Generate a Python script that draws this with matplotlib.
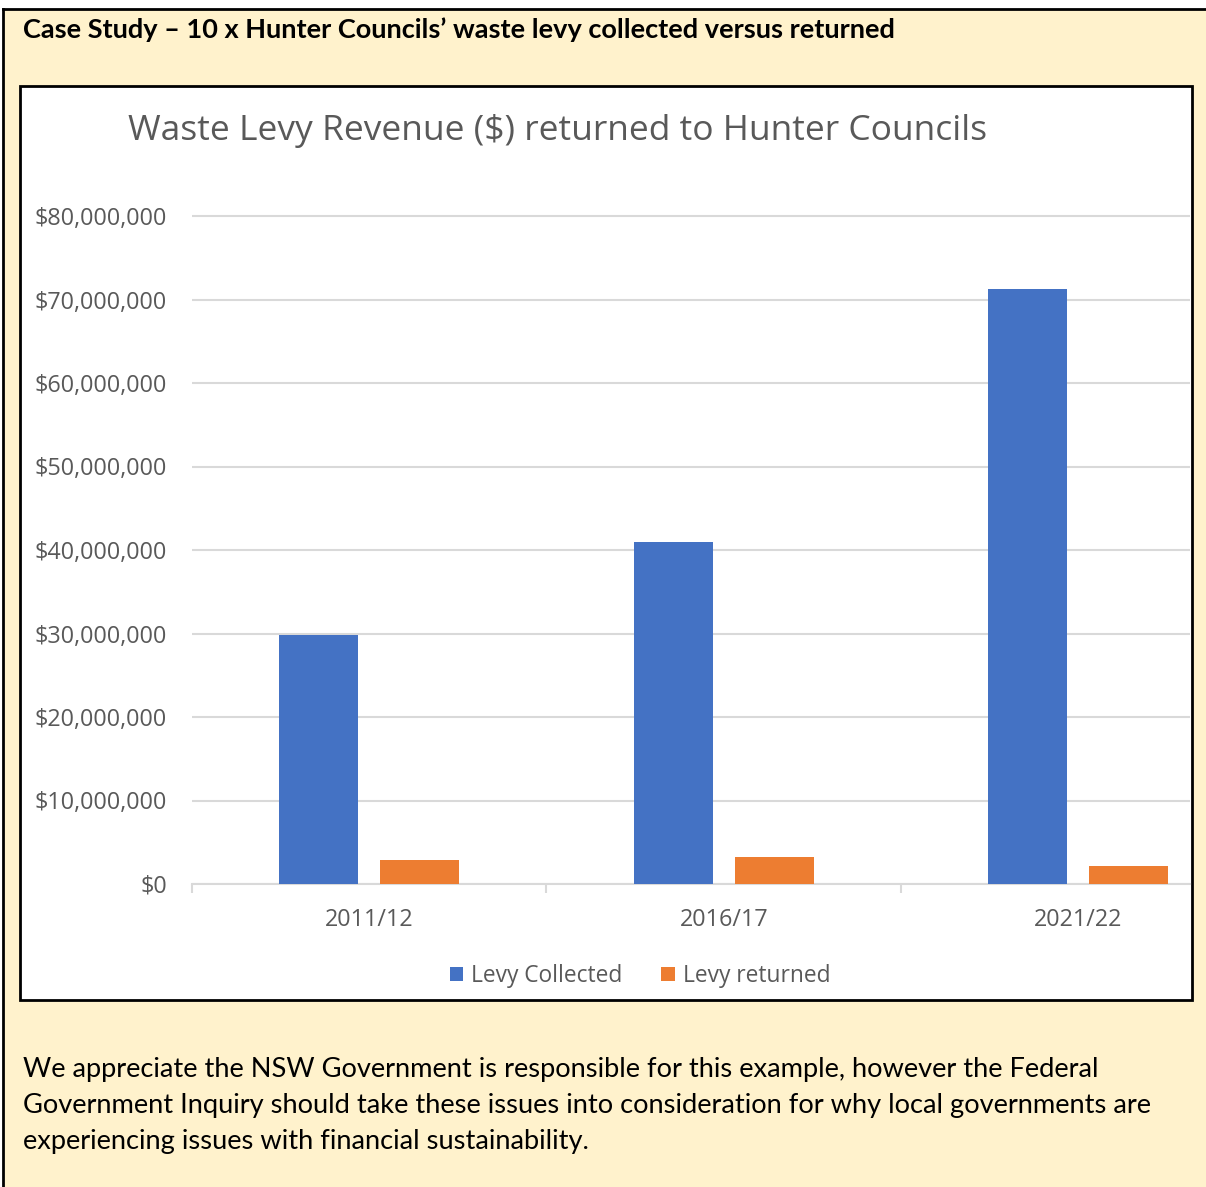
import matplotlib
matplotlib.use("Agg")
import matplotlib.pyplot as plt
from matplotlib.patches import Rectangle
import numpy as np

# ---- data ----
categories = ["2011/12", "2016/17", "2021/22"]
levy_collected = [29_800_000, 41_000_000, 71_300_000]
levy_returned = [2_850_000, 3_200_000, 2_150_000]
series_names = ["Levy Collected", "Levy returned"]
ytick_values = [0, 10_000_000, 20_000_000, 30_000_000, 40_000_000,
                50_000_000, 60_000_000, 70_000_000, 80_000_000]
header_text = "Case Study \u2013 10 x Hunter Councils\u2019 waste levy collected versus returned"
chart_title = "Waste Levy Revenue ($) returned to Hunter Councils"
body_lines = [
    "We appreciate the NSW Government is responsible for this example, however the Federal",
    "Government Inquiry should take these issues into consideration for why local governments are",
    "experiencing issues with financial sustainability.",
]

W, H = 1206, 1187
DPI = 100
fig = plt.figure(figsize=(W / DPI, H / DPI), dpi=DPI)
fig.patch.set_facecolor("white")

def fx(px):
    return px / W

def fy(py):
    return 1 - py / H

BG = "#FFF2CC"
BLUE = "#4472C4"
ORANGE = "#ED7D31"
GRAY_TXT = "#595959"
GRID = "#D9D9D9"

# outer yellow panel
fig.add_artist(Rectangle((fx(3), 0), fx(W) - fx(3), fy(9), transform=fig.transFigure,
                         facecolor=BG, edgecolor="none", zorder=0))
fig.add_artist(plt.Line2D([fx(3), fx(W)], [fy(9), fy(9)], transform=fig.transFigure,
                          color="black", lw=2, zorder=1))
fig.add_artist(plt.Line2D([fx(3), fx(3)], [fy(9), 0], transform=fig.transFigure,
                          color="black", lw=2, zorder=1))

# header text
fig.text(fx(23), fy(30), header_text, fontsize=19.55, fontweight="bold", family="Lato",
         color="black", ha="left", va="center")

# chart box
fig.add_artist(Rectangle((fx(20), fy(1000)), fx(1192) - fx(20), fy(86) - fy(1000),
                         transform=fig.transFigure, facecolor="white",
                         edgecolor="black", lw=2, zorder=1))

# body text
for i, line in enumerate(body_lines):
    fig.text(fx(23), fy(1069 + 36 * i), line, fontsize=19.6, family="Lato",
             color="black", ha="left", va="center")

# axes
px_per_10m = 83.5
y0 = 884
ytop_val = 82_000_000
ytop_px = y0 - ytop_val / 10_000_000 * px_per_10m
cat_px = 354.5
left_px, right_px = 192, 1190
ax = fig.add_axes([fx(left_px), fy(y0), fx(right_px) - fx(left_px), fy(ytop_px) - fy(y0)])
ax.set_facecolor("none")
ax.set_zorder(2)

x = np.arange(len(categories))
bw = 0.223
off = 0.1425
ax.bar(x - off, levy_collected, width=bw, color=BLUE, label=series_names[0], zorder=3)
ax.bar(x + off, levy_returned, width=bw, color=ORANGE, label=series_names[1], zorder=3)

ax.set_xlim(-0.5, -0.5 + (right_px - left_px) / cat_px)
ax.set_ylim(0, ytop_val)
ax.set_yticks(ytick_values)
ax.set_yticklabels([f"${v:,.0f}" for v in ytick_values])
ax.yaxis.grid(True, color=GRID, lw=1.5, zorder=0)
ax.set_axisbelow(True)
for s in ["top", "right", "left"]:
    ax.spines[s].set_visible(False)
ax.spines["bottom"].set_color(GRID)
ax.spines["bottom"].set_linewidth(1.5)
ax.tick_params(axis="y", length=0, pad=18, labelsize=16.8, labelcolor=GRAY_TXT)
for lab in ax.get_yticklabels():
    lab.set_family("Open Sans")
ax.set_xticks(x)
ax.set_xticklabels(categories)
ax.tick_params(axis="x", which="major", length=0, pad=17.5, labelsize=16.8, labelcolor=GRAY_TXT)
for lab in ax.get_xticklabels():
    lab.set_family("Open Sans")
ax.set_xticks([-0.5, 0.5, 1.5], minor=True)
ax.tick_params(axis="x", which="minor", length=6.5, width=1.5, color=GRID)

# chart title
fig.text(fx(128), fy(131), chart_title, fontsize=25.5, family="Open Sans",
         color=GRAY_TXT, ha="left", va="center")

# legend
leg = fig.legend(*ax.get_legend_handles_labels(), loc="center",
                 bbox_to_anchor=(fx(640), fy(976)), ncol=2, frameon=False,
                 prop={"family": "Open Sans", "size": 16.4},
                 handlelength=0.6, handleheight=0.6, handletextpad=0.35,
                 columnspacing=1.7, borderaxespad=0)
for t in leg.get_texts():
    t.set_color(GRAY_TXT)

fig.savefig("out.png", dpi=DPI)
